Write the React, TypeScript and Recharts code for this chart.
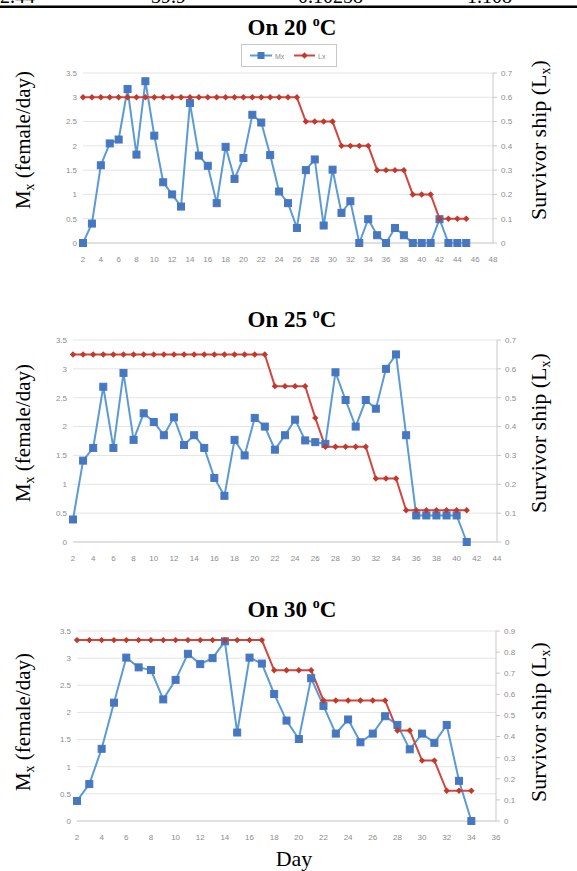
import React from 'react';
import { LineChart, Line, XAxis, YAxis, CartesianGrid } from 'recharts';

// ---- 20 °C ----
const days20 = [2, 3, 4, 5, 6, 7, 8, 9, 10, 11, 12, 13, 14, 15, 16, 17, 18, 19, 20, 21, 22, 23, 24, 25, 26, 27, 28, 29, 30, 31, 32, 33, 34, 35, 36, 37, 38, 39, 40, 41, 42, 43, 44, 45];
const mx20 = [0, 0.4, 1.6, 2.05, 2.13, 3.17, 1.82, 3.33, 2.21, 1.25, 1.0, 0.75, 2.88, 1.8, 1.59, 0.82, 1.98, 1.32, 1.75, 2.64, 2.48, 1.81, 1.06, 0.82, 0.31, 1.5, 1.72, 0.36, 1.51, 0.62, 0.86, 0, 0.49, 0.16, 0, 0.31, 0.16, 0, 0, 0, 0.49, 0, 0, 0];
const lx20 = [0.6, 0.6, 0.6, 0.6, 0.6, 0.6, 0.6, 0.6, 0.6, 0.6, 0.6, 0.6, 0.6, 0.6, 0.6, 0.6, 0.6, 0.6, 0.6, 0.6, 0.6, 0.6, 0.6, 0.6, 0.6, 0.5, 0.5, 0.5, 0.5, 0.4, 0.4, 0.4, 0.4, 0.3, 0.3, 0.3, 0.3, 0.2, 0.2, 0.2, 0.1, 0.1, 0.1, 0.1];
const xTicks20 = [2, 4, 6, 8, 10, 12, 14, 16, 18, 20, 22, 24, 26, 28, 30, 32, 34, 36, 38, 40, 42, 44, 46, 48];
const rTicks20 = [0, 0.1, 0.2, 0.3, 0.4, 0.5, 0.6, 0.7];

// ---- 25 °C ----
const days25 = [2, 3, 4, 5, 6, 7, 8, 9, 10, 11, 12, 13, 14, 15, 16, 17, 18, 19, 20, 21, 22, 23, 24, 25, 26, 27, 28, 29, 30, 31, 32, 33, 34, 35, 36, 37, 38, 39, 40, 41];
const mx25 = [0.39, 1.41, 1.63, 2.69, 1.63, 2.93, 1.77, 2.23, 2.08, 1.85, 2.16, 1.68, 1.85, 1.63, 1.11, 0.8, 1.77, 1.5, 2.15, 2.0, 1.6, 1.85, 2.12, 1.76, 1.73, 1.7, 2.94, 2.46, 2.0, 2.46, 2.31, 3.0, 3.25, 1.85, 0.46, 0.46, 0.46, 0.46, 0.46, 0];
const lx25 = [0.65, 0.65, 0.65, 0.65, 0.65, 0.65, 0.65, 0.65, 0.65, 0.65, 0.65, 0.65, 0.65, 0.65, 0.65, 0.65, 0.65, 0.65, 0.65, 0.65, 0.54, 0.54, 0.54, 0.54, 0.43, 0.33, 0.33, 0.33, 0.33, 0.33, 0.22, 0.22, 0.22, 0.11, 0.11, 0.11, 0.11, 0.11, 0.11, 0.11];
const xTicks25 = [2, 4, 6, 8, 10, 12, 14, 16, 18, 20, 22, 24, 26, 28, 30, 32, 34, 36, 38, 40, 42, 44];
const rTicks25 = [0, 0.1, 0.2, 0.3, 0.4, 0.5, 0.6, 0.7];

// ---- 30 °C ----
const days30 = [2, 3, 4, 5, 6, 7, 8, 9, 10, 11, 12, 13, 14, 15, 16, 17, 18, 19, 20, 21, 22, 23, 24, 25, 26, 27, 28, 29, 30, 31, 32, 33, 34];
const mx30 = [0.37, 0.68, 1.33, 2.18, 3.01, 2.83, 2.78, 2.24, 2.6, 3.08, 2.89, 3.0, 3.31, 1.63, 3.01, 2.9, 2.34, 1.85, 1.51, 2.63, 2.12, 1.61, 1.87, 1.45, 1.61, 1.93, 1.77, 1.32, 1.61, 1.44, 1.77, 0.74, 0];
const lx30 = [0.857, 0.857, 0.857, 0.857, 0.857, 0.857, 0.857, 0.857, 0.857, 0.857, 0.857, 0.857, 0.857, 0.857, 0.857, 0.857, 0.714, 0.714, 0.714, 0.714, 0.571, 0.571, 0.571, 0.571, 0.571, 0.571, 0.429, 0.429, 0.286, 0.286, 0.143, 0.143, 0.143];
const xTicks30 = [2, 4, 6, 8, 10, 12, 14, 16, 18, 20, 22, 24, 26, 28, 30, 32, 34, 36];
const rTicks30 = [0, 0.1, 0.2, 0.3, 0.4, 0.5, 0.6, 0.7, 0.8, 0.9];

const leftTicks = [0, 0.5, 1, 1.5, 2, 2.5, 3, 3.5];

const BLUE = '#5b9bd5';
const BLUE_DOT = '#4677c0';
const RED = '#d2463f';
const RED_DOT = '#c0392b';
const TICK = { fill: '#8c8c8c', fontSize: 8, fontFamily: 'Liberation Sans, Arial, sans-serif' };
const SERIF = 'Liberation Serif, Times New Roman, serif';

const SquareDot = (props: any) => {
  const { cx, cy, index } = props;
  if (cx == null || cy == null) return <g key={`s${index}`} />;
  return <rect key={`s${index}`} x={cx - 3.5} y={cy - 3.5} width={7} height={7} fill={BLUE_DOT} stroke={BLUE_DOT} />;
};

const DiamondDot = (props: any) => {
  const { cx, cy, index } = props;
  if (cx == null || cy == null) return <g key={`d${index}`} />;
  const r = 3.2;
  return (
    <polygon
      key={`d${index}`}
      points={`${cx},${cy - r} ${cx + r},${cy} ${cx},${cy + r} ${cx - r},${cy}`}
      fill={RED_DOT}
    />
  );
};

interface PanelProps {
  plot: { left: number; right: number; top: number; bottom: number };
  days: number[];
  mx: number[];
  lx: number[];
  xMax: number;
  xTicks: number[];
  rMax: number;
  rTicks: number[];
}

const Panel: React.FC<PanelProps> = ({ plot, days, mx, lx, xMax, xTicks, rMax, rTicks }) => {
  const data = days.map((d, i) => ({ day: d, mx: mx[i], lx: lx[i] }));
  const padTop = 10;
  const padBottom = 30;
  const axisW = 40;
  const xAxisH = 25;
  const height = plot.bottom - plot.top + padTop + padBottom;

  return (
    <div style={{ position: 'absolute', left: 0, top: plot.top - padTop, width: 577, height }}>
      <LineChart
        width={577}
        height={height}
        data={data}
        margin={{
          top: padTop,
          bottom: padBottom - xAxisH,
          left: plot.left - axisW,
          right: 577 - plot.right - axisW,
        }}
      >
        <CartesianGrid yAxisId="left" vertical={false} stroke="#e4e4e4" />
        <XAxis
          dataKey="day"
          type="number"
          domain={[2, xMax]}
          ticks={xTicks}
          interval={0}
          height={xAxisH}
          axisLine={{ stroke: '#d0d0d0' }}
          tickLine={false}
          tickSize={6}
          tickMargin={7}
          tick={TICK}
        />
        <YAxis
          yAxisId="left"
          orientation="left"
          width={axisW}
          domain={[0, 3.5]}
          ticks={leftTicks}
          interval={0}
          axisLine={false}
          tickLine={false}
          tickSize={0}
          tickMargin={6}
          tick={TICK}
        />
        <YAxis
          yAxisId="right"
          orientation="right"
          width={axisW}
          domain={[0, rMax]}
          ticks={rTicks}
          interval={0}
          axisLine={{ stroke: '#c8c8c8' }}
          tickLine={{ stroke: '#c8c8c8' }}
          tickSize={4}
          tickMargin={4}
          tick={TICK}
        />
        <Line
          yAxisId="left"
          dataKey="mx"
          type="linear"
          stroke={BLUE}
          strokeWidth={2}
          dot={SquareDot}
          activeDot={false}
          isAnimationActive={false}
        />
        <Line
          yAxisId="right"
          dataKey="lx"
          type="linear"
          stroke={RED}
          strokeWidth={2}
          dot={DiamondDot}
          activeDot={false}
          isAnimationActive={false}
        />
      </LineChart>
    </div>
  );
};

const Title: React.FC<{ x: number; y: number; t: string }> = ({ x, y, t }) => (
  <text x={x} y={y} textAnchor="middle" fontFamily={SERIF} fontWeight="bold" fontSize={23} fill="#000">
    On {t} <tspan dy={-9} fontSize={14}>o</tspan>
    <tspan dy={9}>C</tspan>
  </text>
);

const MxLabel: React.FC<{ x: number; y: number }> = ({ x, y }) => (
  <text transform={`rotate(-90 ${x} ${y})`} x={x} y={y} textAnchor="middle" fontFamily={SERIF} fontSize={21} fill="#000">
    M<tspan dy={4} fontSize={14}>x</tspan>
    <tspan dy={-4}> (female/day)</tspan>
  </text>
);

const LxLabel: React.FC<{ x: number; y: number }> = ({ x, y }) => (
  <text transform={`rotate(-90 ${x} ${y})`} x={x} y={y} textAnchor="middle" fontFamily={SERIF} fontSize={22} fill="#000">
    Survivor ship (L<tspan dy={4} fontSize={14}>x</tspan>
    <tspan dy={-4}>)</tspan>
  </text>
);

export default function App() {
  return (
    <div style={{ position: 'absolute', left: 0, top: 0, width: 577, height: 871, background: '#fff' }}>
      <Panel
        plot={{ left: 83, right: 493, top: 73, bottom: 243 }}
        days={days20}
        mx={mx20}
        lx={lx20}
        xMax={48}
        xTicks={xTicks20}
        rMax={0.7}
        rTicks={rTicks20}
      />
      <Panel
        plot={{ left: 73, right: 497, top: 340, bottom: 542 }}
        days={days25}
        mx={mx25}
        lx={lx25}
        xMax={44}
        xTicks={xTicks25}
        rMax={0.7}
        rTicks={rTicks25}
      />
      <Panel
        plot={{ left: 77, right: 496, top: 631, bottom: 821 }}
        days={days30}
        mx={mx30}
        lx={lx30}
        xMax={36}
        xTicks={xTicks30}
        rMax={0.9}
        rTicks={rTicks30}
      />
      <svg
        width={577}
        height={871}
        style={{ position: 'absolute', left: 0, top: 0, pointerEvents: 'none' }}
      >
        {/* cut-off table row above the figure */}
        <g fontFamily={SERIF} fontSize={20} fill="#000">
          <text x={0} y={3}>2.44</text>
          <text x={151} y={3}>39.9</text>
          <text x={298} y={3}>0.10258</text>
          <text x={467} y={3}>1.108</text>
        </g>
        <rect x={0} y={5.5} width={577} height={2.5} fill="#000" />

        <Title x={292} y={35} t="20" />
        <Title x={292} y={327} t="25" />
        <Title x={292} y={617} t="30" />

        {/* legend of the first panel */}
        <rect x={241.5} y={44.5} width={95} height={22} fill="#fff" stroke="#c8c8c8" />
        <line x1={250} y1={55.5} x2={272} y2={55.5} stroke={BLUE} strokeWidth={2} />
        <rect x={257.5} y={52} width={7} height={7} fill={BLUE_DOT} />
        <text x={275} y={58.5} fontSize={7} fill="#8c8c8c" fontFamily="Liberation Sans, Arial, sans-serif">Mx</text>
        <line x1={294} y1={55.5} x2={315} y2={55.5} stroke={RED} strokeWidth={2} />
        <polygon points="304.5,52.3 307.7,55.5 304.5,58.7 301.3,55.5" fill={RED_DOT} />
        <text x={318} y={58.5} fontSize={7} fill="#8c8c8c" fontFamily="Liberation Sans, Arial, sans-serif">Lx</text>

        <MxLabel x={30} y={140} />
        <LxLabel x={546} y={140} />
        <MxLabel x={30} y={433} />
        <LxLabel x={546} y={433} />
        <MxLabel x={30} y={722} />
        <LxLabel x={546} y={722} />

        <text x={294} y={866} textAnchor="middle" fontFamily={SERIF} fontSize={22} fill="#000">Day</text>
      </svg>
    </div>
  );
}
